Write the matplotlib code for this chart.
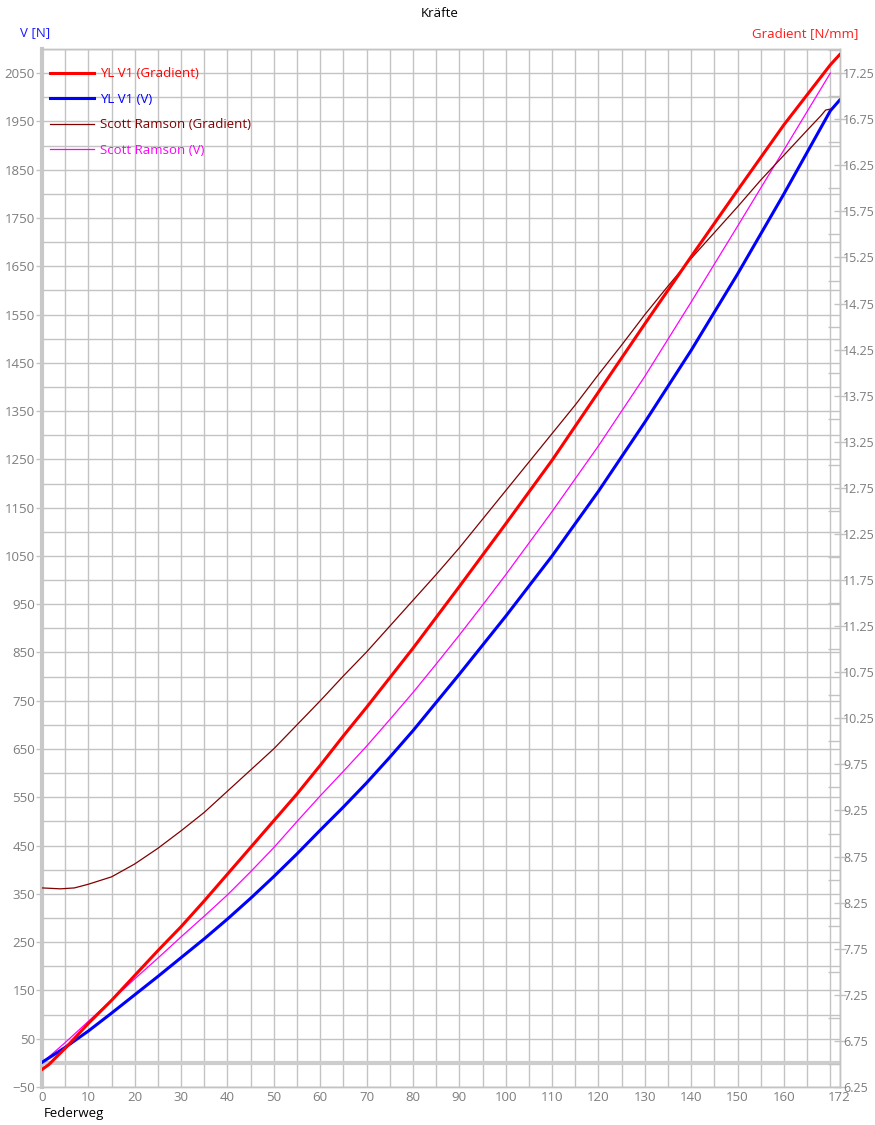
import matplotlib
matplotlib.use('Agg')
import matplotlib.pyplot as plt
import numpy as np

plt.rcParams['font.family'] = ['Open Sans', 'DejaVu Sans']

# ---- data ----
title = "Kräfte"
x_label = "Federweg"
left_label = "V [N]"
right_label = "Gradient [N/mm]"

# YL V1 (Gradient) -> right axis
yl_grad_x = [0, 1.4, 5, 10, 15, 20, 25, 30, 35, 40, 45, 50, 55, 60, 65, 70, 80, 90, 100, 110, 120,
             130, 140, 150, 160, 170, 172]
yl_grad_y = [6.44, 6.49, 6.67, 6.94, 7.19, 7.46, 7.73, 7.99, 8.27, 8.56, 8.85, 9.14, 9.43, 9.74,
             10.06, 10.37, 11.01, 11.68, 12.36, 13.05, 13.79, 14.53, 15.26, 15.98, 16.69, 17.34, 17.45]

# YL V1 (V) -> left axis
yl_v_x = [0, 5, 10, 15, 20, 25, 30, 35, 40, 45, 50, 55, 60, 65, 70, 75, 80, 90, 100, 110, 120,
          130, 140, 150, 160, 170, 172]
yl_v_y = [1, 32, 66, 103, 141, 179, 218, 257, 298, 341, 386, 433, 482, 530, 580, 633, 688, 805,
          925, 1050, 1184, 1327, 1476, 1634, 1800, 1972, 1994]

# Scott Ramson (Gradient) -> right axis
sr_grad_x = [0, 4, 7, 10, 15, 20, 25, 30, 35, 40, 45, 50, 55, 60, 65, 70, 75, 80, 85, 90, 95, 100,
             105, 110, 115, 120, 125, 130, 135, 140, 145, 150, 155, 160, 165, 168, 169, 170]
sr_grad_y = [8.41, 8.40, 8.41, 8.45, 8.53, 8.67, 8.84, 9.03, 9.23, 9.46, 9.69, 9.92, 10.18, 10.44,
             10.71, 10.97, 11.25, 11.53, 11.81, 12.10, 12.41, 12.72, 13.03, 13.34, 13.65, 13.98,
             14.30, 14.63, 14.94, 15.24, 15.52, 15.80, 16.09, 16.36, 16.63, 16.79, 16.85, 16.86]

# Scott Ramson (V) -> left axis
sr_v_x = [0, 5, 10, 15, 20, 25, 30, 35, 40, 45, 50, 55, 60, 65, 70, 75, 80, 85, 90, 95, 100, 110,
          120, 130, 140, 150, 160, 170]
sr_v_y = [0, 42, 86, 130, 174, 217, 261, 304, 348, 396, 446, 500, 553, 604, 656, 711, 767, 826,
          886, 948, 1011, 1142, 1278, 1422, 1576, 1733, 1891, 2050]

series_names = ["YL V1 (Gradient)", "YL V1 (V)", "Scott Ramson (Gradient)", "Scott Ramson (V)"]
series_colors = ["#ff0000", "#0000ff", "#800000", "#ff00ff"]

x_tick_labels = [str(v) for v in range(0, 161, 10)] + ["172"]

# ---- figure ----
W, H = 875, 1125
fig = plt.figure(figsize=(W / 100, H / 100), dpi=100)
L, R, T, B = 42, 839.6, 49, 1087
ax = fig.add_axes([L / W, 1 - B / H, (R - L) / W, (B - T) / H])
ax2 = ax.twinx()

grid_c = '#c3c3c3'
lab_c = '#7d7d7d'
fs = 9.5

ax.set_xlim(0, 172)
ax.set_ylim(-50, 2100)
ax2.set_ylim(6.25, 6.25 + 2150 * 11 / 2100)

# x ticks
ax.set_xticks(list(range(0, 161, 10)) + [172])
ax.set_xticklabels(x_tick_labels)
ax.set_xticks(list(range(5, 171, 5)), minor=True)
ax.tick_params(axis='x', which='both', length=0, pad=3, labelsize=fs, labelcolor=lab_c)

# left y ticks
ax.set_yticks(np.arange(-50, 2051, 100))
ax.set_yticks(np.arange(0, 2101, 100), minor=True)
ax.tick_params(axis='y', which='major', length=4, width=1, color=grid_c, pad=1, labelsize=fs, labelcolor=lab_c)
ax.tick_params(axis='y', which='minor', length=0)

# right y ticks
ax2.set_yticks(np.arange(6.25, 17.26, 0.5))
ax2.set_yticklabels([f"{v:.2f}" for v in np.arange(6.25, 17.26, 0.5)])
ax2.set_yticks(np.arange(6.5, 17.51, 0.5), minor=True)
ax2.tick_params(axis='y', which='major', direction='inout', length=9, width=1, color=grid_c, pad=-2,
                labelsize=9, labelcolor=lab_c)
ax2.tick_params(axis='y', which='minor', direction='in', length=9, width=1, color=grid_c)

ax.grid(True, which='both', color=grid_c, linewidth=1)
ax.set_axisbelow(True)

for s in ['top', 'bottom', 'right']:
    ax.spines[s].set_color(grid_c)
    ax.spines[s].set_linewidth(1)
    ax2.spines[s].set_color(grid_c)
    ax2.spines[s].set_linewidth(1)
ax.spines['left'].set_color('#c8c8c8')
ax.spines['left'].set_linewidth(3)
ax2.spines['left'].set_visible(False)

ax.axhline(0, color='#cdcdcd', linewidth=3, zorder=1.5)

l_sr_v, = ax.plot(sr_v_x, sr_v_y, color=series_colors[3], linewidth=0.9, zorder=3)
l_yl_v, = ax.plot(yl_v_x, yl_v_y, color=series_colors[1], linewidth=2.2, zorder=4)
l_sr_g, = ax2.plot(sr_grad_x, sr_grad_y, color=series_colors[2], linewidth=0.9, zorder=3)
l_yl_g, = ax2.plot(yl_grad_x, yl_grad_y, color=series_colors[0], linewidth=2.2, zorder=4)

handles = [l_yl_g, l_yl_v, l_sr_g, l_sr_v]
leg = ax2.legend(handles, series_names, loc='upper left', bbox_to_anchor=(0.0095, 0.9825),
                 frameon=False, fontsize=fs, handlelength=3.4, handletextpad=0.45,
                 labelspacing=0.95, borderpad=0, borderaxespad=0)
for t, c in zip(leg.get_texts(), series_colors):
    t.set_color(c)

fig.text(440 / W, 1 - 13.5 / H, title, ha='center', va='center', fontsize=9.5, color='black')
fig.text(35 / W, 1 - 33 / H, left_label, ha='center', va='center', fontsize=fs, color='#1a1aff')
fig.text(805 / W, 1 - 34 / H, right_label, ha='center', va='center', fontsize=fs, color='#ff1a1a')
fig.text(44 / W, 1 - 1113 / H, x_label, ha='left', va='center', fontsize=fs, color='black')

fig.savefig('out.png', dpi=100)
